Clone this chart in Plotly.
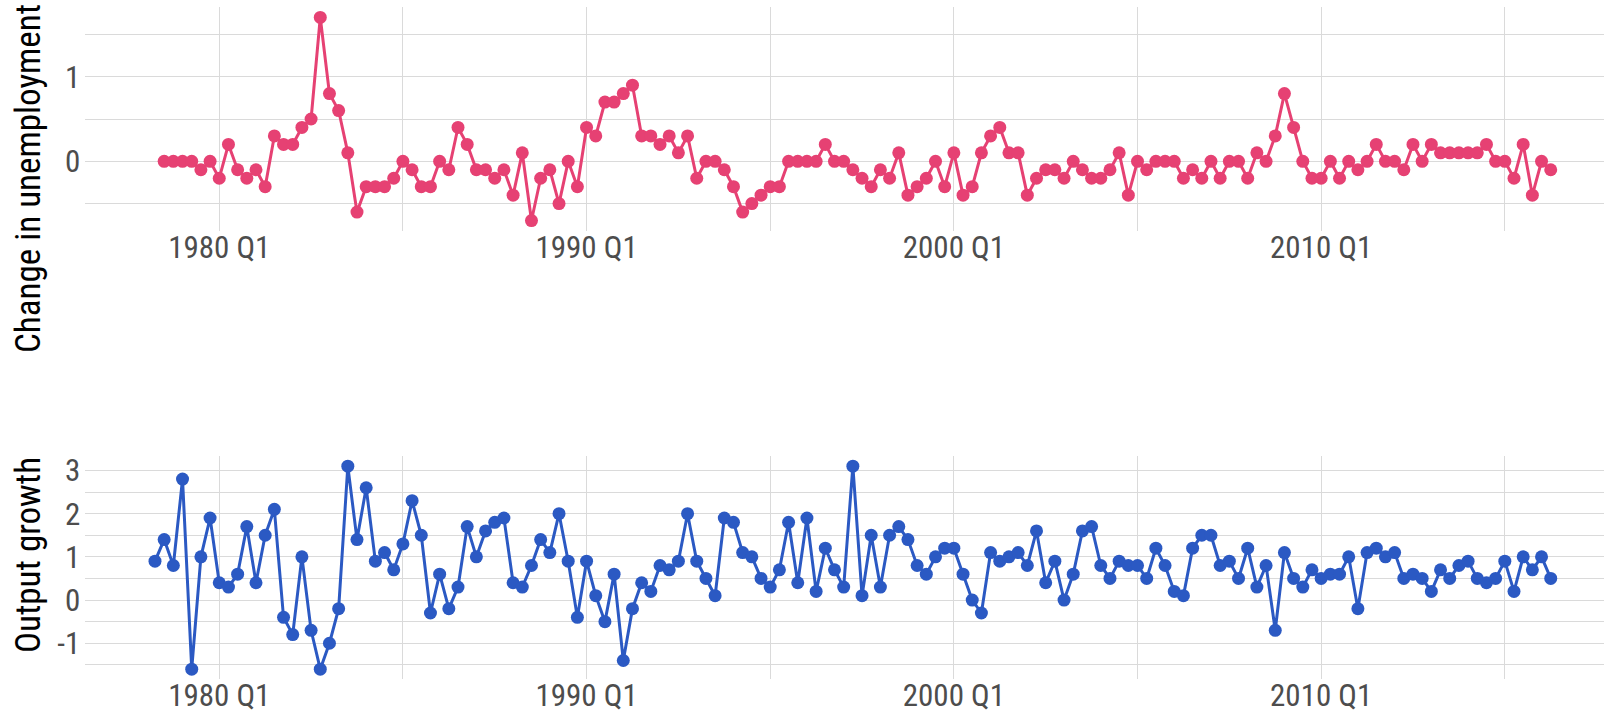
import pandas as pd
import plotly.graph_objects as go

# ---- data ----
unemp_start = "1978Q3"
unemp_change = [
    0, 0, 0, 0, -0.1, 0,
    -0.2, 0.2, -0.1, -0.2,
    -0.1, -0.3, 0.3, 0.2,
    0.2, 0.4, 0.5, 1.7,
    0.8, 0.6, 0.1, -0.6,
    -0.3, -0.3, -0.3, -0.2,
    0, -0.1, -0.3, -0.3,
    0, -0.1, 0.4, 0.2,
    -0.1, -0.1, -0.2, -0.1,
    -0.4, 0.1, -0.7, -0.2,
    -0.1, -0.5, 0, -0.3,
    0.4, 0.3, 0.7, 0.7,
    0.8, 0.9, 0.3, 0.3,
    0.2, 0.3, 0.1, 0.3,
    -0.2, 0, 0, -0.1,
    -0.3, -0.6, -0.5, -0.4,
    -0.3, -0.3, 0, 0,
    0, 0, 0.2, 0,
    0, -0.1, -0.2, -0.3,
    -0.1, -0.2, 0.1, -0.4,
    -0.3, -0.2, 0, -0.3,
    0.1, -0.4, -0.3, 0.1,
    0.3, 0.4, 0.1, 0.1,
    -0.4, -0.2, -0.1, -0.1,
    -0.2, 0, -0.1, -0.2,
    -0.2, -0.1, 0.1, -0.4,
    0, -0.1, 0, 0,
    0, -0.2, -0.1, -0.2,
    0, -0.2, 0, 0,
    -0.2, 0.1, 0, 0.3,
    0.8, 0.4, 0, -0.2,
    -0.2, 0, -0.2, 0,
    -0.1, 0, 0.2, 0,
    0, -0.1, 0.2, 0,
    0.2, 0.1, 0.1, 0.1,
    0.1, 0.1, 0.2, 0,
    0, -0.2, 0.2, -0.4,
    0, -0.1,
]

output_start = "1978Q2"
output_growth = [
    0.9, 1.4, 0.8,
    2.8, -1.6, 1.0, 1.9,
    0.4, 0.3, 0.6, 1.7,
    0.4, 1.5, 2.1, -0.4,
    -0.8, 1.0, -0.7, -1.6,
    -1.0, -0.2, 3.1, 1.4,
    2.6, 0.9, 1.1, 0.7,
    1.3, 2.3, 1.5, -0.3,
    0.6, -0.2, 0.3, 1.7,
    1.0, 1.6, 1.8, 1.9,
    0.4, 0.3, 0.8, 1.4,
    1.1, 2.0, 0.9, -0.4,
    0.9, 0.1, -0.5, 0.6,
    -1.4, -0.2, 0.4, 0.2,
    0.8, 0.7, 0.9, 2.0,
    0.9, 0.5, 0.1, 1.9,
    1.8, 1.1, 1.0, 0.5,
    0.3, 0.7, 1.8, 0.4,
    1.9, 0.2, 1.2, 0.7,
    0.3, 3.1, 0.1, 1.5,
    0.3, 1.5, 1.7, 1.4,
    0.8, 0.6, 1.0, 1.2,
    1.2, 0.6, 0.0, -0.3,
    1.1, 0.9, 1.0, 1.1,
    0.8, 1.6, 0.4, 0.9,
    0.0, 0.6, 1.6, 1.7,
    0.8, 0.5, 0.9, 0.8,
    0.8, 0.5, 1.2, 0.8,
    0.2, 0.1, 1.2, 1.5,
    1.5, 0.8, 0.9, 0.5,
    1.2, 0.3, 0.8, -0.7,
    1.1, 0.5, 0.3, 0.7,
    0.5, 0.6, 0.6, 1.0,
    -0.2, 1.1, 1.2, 1.0,
    1.1, 0.5, 0.6, 0.5,
    0.2, 0.7, 0.5, 0.8,
    0.9, 0.5, 0.4, 0.5,
    0.9, 0.2, 1.0, 0.7,
    1.0, 0.5,
]

x_tick_years = [1980, 1990, 2000, 2010]
x_tick_labels = ["1980 Q1", "1990 Q1", "2000 Q1", "2010 Q1"]
x_minor_years = [1975, 1985, 1995, 2005, 2015]
y_ticks_unemp = [0, 1]
y_ticks_output = [-1, 0, 1, 2, 3]

PINK = "#e64173"
BLUE = "#2b59c3"
FONT = "Roboto Condensed, Liberation Sans Narrow, Roboto, sans-serif"


def quarter_x(start, n):
    p = pd.period_range(start=start, periods=n, freq="Q")
    return [pr.year + (pr.quarter - 1) / 4 for pr in p], [f"{pr.year} Q{pr.quarter}" for pr in p]


ux, ulab = quarter_x(unemp_start, len(unemp_change))
ox, olab = quarter_x(output_start, len(output_growth))

fig = go.Figure()
fig.add_trace(go.Scatter(
    x=ux, y=unemp_change, mode="lines+markers", xaxis="x", yaxis="y",
    line=dict(color=PINK, width=3), marker=dict(color=PINK, size=13),
    text=ulab, hovertemplate="%{text}: %{y}<extra></extra>", showlegend=False,
))
fig.add_trace(go.Scatter(
    x=ox, y=output_growth, mode="lines+markers", xaxis="x2", yaxis="y2",
    line=dict(color=BLUE, width=3), marker=dict(color=BLUE, size=13),
    text=olab, hovertemplate="%{text}: %{y}<extra></extra>", showlegend=False,
))

GRID = "#dadada"
W, H = 1604, 713
left_px = 85.2
xr = [1976.35, 1976.35 + (W - left_px) / 36.73]

xcommon = dict(
    range=xr, domain=[left_px / W, 1.0], automargin=False,
    tickvals=x_tick_years, ticktext=x_tick_labels,
    showgrid=True, gridcolor=GRID, gridwidth=1.2, zeroline=False,
    showline=False, ticks="", ticklabelstandoff=-5,
    tickfont=dict(family=FONT, size=31, color="#4d4d4d"),
    minor=dict(tickvals=x_minor_years, showgrid=True, gridcolor=GRID, gridwidth=1.2, ticks=""),
)
ycommon = dict(
    showgrid=True, gridcolor=GRID, gridwidth=1.2, zeroline=False, showline=False,
    ticks="", ticklabelstandoff=4, automargin=False,
    tickfont=dict(family=FONT, size=31, color="#4d4d4d"),
)

fig.update_layout(
    width=W, height=H,
    margin=dict(l=0, r=0, t=0, b=0, autoexpand=False),
    paper_bgcolor="white", plot_bgcolor="white",
    font=dict(family=FONT),
    xaxis=dict(**xcommon, anchor="y"),
    xaxis2=dict(**xcommon, anchor="y2"),
    yaxis=dict(**ycommon, range=[-0.82, 1.82],
               tickvals=y_ticks_unemp, ticktext=[str(v) for v in y_ticks_unemp],
               domain=[1 - 230.7 / H, 1 - 7.3 / H], anchor="x",
               minor=dict(dtick=0.5, tick0=0, showgrid=True, gridcolor=GRID, gridwidth=1.2, ticks="")),
    yaxis2=dict(**ycommon, range=[-1.835, 3.335],
                tickvals=y_ticks_output, ticktext=[str(v) for v in y_ticks_output],
                domain=[1 - 679.3 / H, 1 - 456 / H], anchor="x2",
                minor=dict(dtick=0.5, tick0=0, showgrid=True, gridcolor=GRID, gridwidth=1.2, ticks="")),
    annotations=[
        dict(text="Change in unemployment", textangle=-90, xref="paper", yref="paper",
             x=28 / W, y=1 - 179 / H, xanchor="center", yanchor="middle", showarrow=False,
             font=dict(family=FONT, size=35, color="black")),
        dict(text="Output growth", textangle=-90, xref="paper", yref="paper",
             x=28 / W, y=1 - 555 / H, xanchor="center", yanchor="middle", showarrow=False,
             font=dict(family=FONT, size=35, color="black")),
    ],
)

fig.write_html(
    "out.html",
    config={"displayModeBar": False},
    post_script="document.body.style.margin='0px'; document.body.style.overflow='hidden';",
)
